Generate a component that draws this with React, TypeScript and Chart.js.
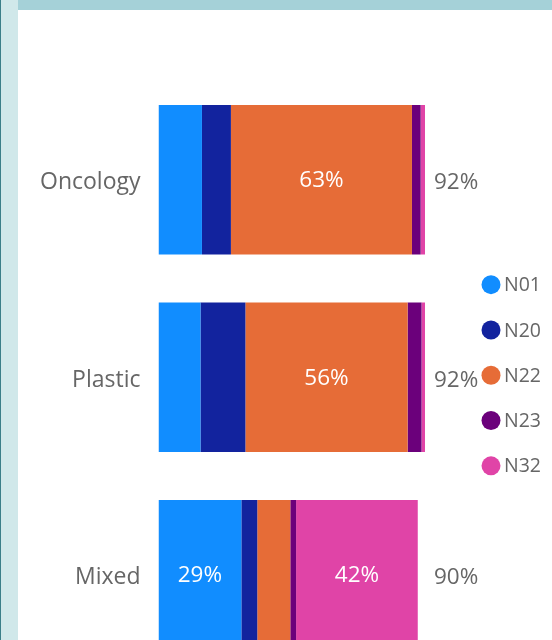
import React, { useEffect, useRef } from "react";
import { Chart, registerables } from "chart.js";

Chart.register(...registerables);

const categories = ["Oncology", "Plastic", "Mixed"];
const seriesNames = ["N01", "N20", "N22", "N23", "N32"];
const n01Values = [15, 14.5, 28.6];
const n20Values = [10, 15.5, 5.5];
const n22Values = [62.5, 56, 11.4];
const n23Values = [3, 4.8, 2];
const n32Values = [1.5, 1.2, 42];
const seriesColors = ["#118DFF", "#12239E", "#E66C37", "#6B007B", "#E044A7"];

const FONT = "'Open Sans', 'Noto Sans', sans-serif";
const TEXT_GRAY = "#666666";

const overlayPlugin = {
  id: "overlayLabels",
  afterDatasetsDraw(chart: any) {
    const ctx = chart.ctx;
    const xs = chart.scales.x;
    const datasets = chart.data.datasets;
    ctx.save();
    ctx.textBaseline = "middle";

    // segment labels
    ctx.font = `22.5px ${FONT}`;
    ctx.fillStyle = "#ffffff";
    ctx.textAlign = "center";
    datasets.forEach((ds: any, di: number) => {
      const meta = chart.getDatasetMeta(di);
      meta.data.forEach((bar: any, i: number) => {
        const v = ds.data[i] as number;
        if (v < 20) return;
        const p = bar.getProps(["x", "base", "y"], true);
        ctx.fillText(Math.round(v) + "%", (p.x + p.base) / 2, p.y + 1);
      });
    });

    // totals
    const totals = categories.map((_, i) =>
      datasets.reduce((s: number, ds: any) => s + (ds.data[i] as number), 0)
    );
    const maxTotal = Math.max(...totals);
    const tx = xs.getPixelForValue(maxTotal) + 9;
    ctx.fillStyle = TEXT_GRAY;
    ctx.textAlign = "left";
    const meta0 = chart.getDatasetMeta(0);
    totals.forEach((t: number, i: number) => {
      const y = meta0.data[i].y;
      ctx.fillText(Math.round(t) + "%", tx, y + 3);
    });

    // legend
    const area = chart.chartArea;
    const midY = (area.top + area.bottom) / 2 - 2;
    const step = 45.3;
    ctx.font = `19.5px ${FONT}`;
    datasets.forEach((ds: any, di: number) => {
      const y = midY + (di - (datasets.length - 1) / 2) * step;
      ctx.beginPath();
      ctx.fillStyle = ds.backgroundColor;
      ctx.arc(473, y, 9.5, 0, Math.PI * 2);
      ctx.fill();
      ctx.fillStyle = TEXT_GRAY;
      ctx.textAlign = "left";
      ctx.fillText(ds.label, 486, y + 1);
    });
    ctx.restore();
  },
};

export default function App() {
  const canvasRef = useRef<HTMLCanvasElement | null>(null);

  useEffect(() => {
    if (!canvasRef.current) return;
    const valueSets = [n01Values, n20Values, n22Values, n23Values, n32Values];
    const chart = new Chart(canvasRef.current, {
      type: "bar",
      data: {
        labels: categories,
        datasets: seriesNames.map((name, i) => ({
          label: name,
          data: valueSets[i],
          backgroundColor: seriesColors[i],
          borderWidth: 0,
          barPercentage: 1,
          categoryPercentage: 0.758,
        })),
      },
      options: {
        indexAxis: "y",
        responsive: false,
        animation: false,
        devicePixelRatio: 1,
        layout: { padding: { left: 0, top: 71, bottom: 76.5, right: 127 } },
        plugins: {
          legend: { display: false },
          tooltip: { enabled: false },
        },
        scales: {
          x: {
            stacked: true,
            display: false,
            min: 0,
            max: 92,
          },
          y: {
            stacked: true,
            grid: { display: false, drawTicks: false },
            border: { display: false },
            ticks: {
              color: TEXT_GRAY,
              font: { family: FONT, size: 23 },
              padding: 18,
              labelOffset: 3,
            },
            afterFit: (scale: any) => {
              scale.width = 140.5;
            },
          },
        },
      },
      plugins: [overlayPlugin],
    } as any);
    return () => chart.destroy();
  }, []);

  return (
    <div
      style={{
        position: "fixed",
        left: 0,
        top: 0,
        width: 552,
        height: 640,
        overflow: "hidden",
        background: "#ffffff",
      }}
    >
      <div style={{ position: "absolute", left: 0, top: 0, width: 1, height: 640, background: "#3B7F89" }} />
      <div style={{ position: "absolute", left: 1, top: 0, width: 17, height: 640, background: "#D0E8EA" }} />
      <div style={{ position: "absolute", left: 18, top: 0, width: 534, height: 10, background: "#A5D1D8" }} />
      <canvas
        ref={canvasRef}
        width={534}
        height={740}
        style={{ position: "absolute", left: 18, top: 10, width: 534, height: 740 }}
      />
    </div>
  );
}
